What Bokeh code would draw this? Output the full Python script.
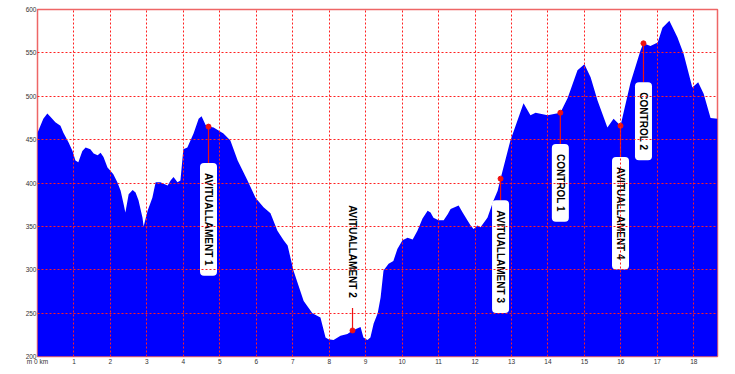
import math
from bokeh.plotting import figure
from bokeh.models import Label, FixedTicker, Range1d
from bokeh.embed import file_html
from bokeh.resources import INLINE

# ---- data ----
dist_km = [0.00, 0.08, 0.16, 0.27, 0.36, 0.49, 0.63, 0.71, 0.85, 0.96, 1.04, 1.12, 1.23, 1.32,
           1.45, 1.54, 1.65, 1.73, 1.81, 1.92, 2.00, 2.08, 2.19, 2.28, 2.36, 2.41, 2.50, 2.61,
           2.69, 2.77, 2.88, 2.91, 3.02, 3.15, 3.24, 3.37, 3.46, 3.57, 3.65, 3.73, 3.84, 3.92,
           4.00, 4.11, 4.28, 4.42, 4.50, 4.61, 4.69, 4.83, 5.10, 5.29, 5.49, 5.76, 5.98, 6.20,
           6.39, 6.58, 6.75, 6.86, 7.02, 7.30, 7.54, 7.76, 7.90, 7.98, 8.12, 8.31, 8.50, 8.64,
           8.86, 8.94, 9.05, 9.13, 9.22, 9.33, 9.41, 9.49, 9.63, 9.76, 9.87, 10.01, 10.15, 10.29,
           10.42, 10.56, 10.70, 10.78, 10.86, 11.00, 11.14, 11.25, 11.33, 11.44, 11.55, 11.66,
           11.79, 11.88, 11.96, 12.07, 12.15, 12.34, 12.51, 12.62, 12.70, 12.97, 13.33, 13.52,
           13.66, 13.99, 14.34, 14.54, 14.81, 15.00, 15.17, 15.36, 15.63, 15.80, 15.99, 16.26,
           16.54, 16.62, 16.81, 17.01, 17.14, 17.33, 17.55, 17.72, 17.96, 18.12, 18.27, 18.46,
           18.65]
elev_m = [458, 466, 474, 480, 476, 470, 466, 458, 447, 437, 426, 424, 437, 441,
          439, 434, 432, 435, 430, 418, 414, 410, 401, 391, 376, 366, 387, 392,
          389, 380, 360, 350, 368, 383, 401, 401, 399, 397, 403, 407, 401, 403,
          439, 441, 457, 474, 477, 467, 465, 464, 457, 449, 426, 403, 383, 372,
          365, 345, 334, 328, 299, 264, 250, 245, 222, 220, 219, 224, 226, 230,
          234, 222, 219, 222, 238, 250, 268, 299, 307, 310, 324, 334, 337, 335,
          345, 359, 368, 366, 360, 357, 357, 364, 370, 372, 374, 366,
          357, 351, 347, 351, 349, 360, 380, 391, 405, 449, 492, 478,
          481, 478, 481, 498, 530, 537, 522, 495, 464, 474, 466, 515,
          553, 561, 558, 562, 579, 587, 568, 549, 510, 516, 503, 475,
          474]

stop_names = ["AVITUALLAMENT 1", "AVITUALLAMENT 2", "AVITUALLAMENT 3",
              "CONTROL 1", "AVITUALLAMENT 4", "CONTROL 2"]
stop_km = [4.69, 8.64, 12.70, 14.34, 15.99, 16.62]
stop_elev = [465, 230, 405, 481, 466, 561]

x_ticks = list(range(0, 19))
y_ticks = list(range(200, 601, 50))

# ---- layout (label box placement) ----
label_top = [423, 386, 380, 445, 430, 516]      # elevation of box top edge
line_end = [423, 256, 380, 445, 430, 516]       # where the leader line ends

p = figure(width=735, height=374, output_backend="svg", toolbar_location=None,
           x_range=Range1d(0, 18.65), y_range=Range1d(200, 600),
           min_border_left=37, min_border_right=18, min_border_top=9, min_border_bottom=18)
p.background_fill_color = "white"
p.border_fill_color = "white"
p.outline_line_color = "#ee6666"
p.outline_line_width = 1.5

p.varea(x=dist_km, y1=200, y2=elev_m, fill_color="#0000ff")

for ax in (p.xaxis[0], p.yaxis[0]):
    ax.axis_line_color = None
    ax.major_tick_line_color = None
    ax.minor_tick_line_color = None
    ax.major_tick_out = 0
    ax.major_tick_in = 0
    ax.minor_tick_out = 0
    ax.major_label_text_font_size = "6.5px"
    ax.major_label_text_color = "#333333"
    ax.major_label_text_font = "Liberation Sans"
p.xaxis.major_label_standoff = 1
p.yaxis.major_label_standoff = 1
p.xaxis.ticker = FixedTicker(ticks=x_ticks)
p.yaxis.ticker = FixedTicker(ticks=y_ticks)
p.xaxis.major_label_overrides = {0: "m 0 km"}

for g in (p.xgrid[0], p.ygrid[0]):
    g.grid_line_color = "#ff2020"
    g.grid_line_dash = "2 2"
    g.grid_line_width = 1
    g.level = "overlay"

p.segment(x0=stop_km, y0=stop_elev, x1=stop_km, y1=line_end, line_color="#ee1111", line_width=1.2)
p.scatter(x=stop_km, y=stop_elev, size=5, fill_color="#ee1111", line_color="#ee1111")

for name, km, top in zip(stop_names, stop_km, label_top):
    p.add_layout(Label(x=km, y=top, text=name, angle=-math.pi / 2,
                       text_align="left", text_baseline="middle",
                       text_font="Liberation Sans", text_font_size="10px",
                       text_font_style="bold", text_color="black",
                       background_fill_color="white", border_line_color=None,
                       padding=(10, 3), border_radius=4))

open("out.html", "w").write(file_html(p, INLINE))
